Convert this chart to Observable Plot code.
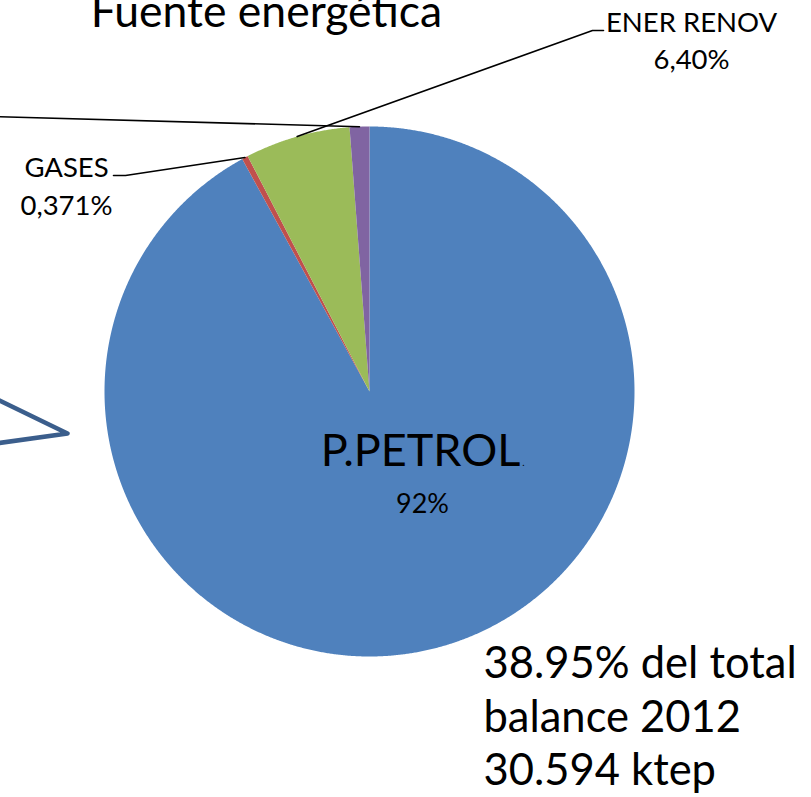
<!DOCTYPE html>
<html><head><meta charset="utf-8">
<script src="https://cdn.jsdelivr.net/npm/d3@7"></script>
<script src="https://cdn.jsdelivr.net/npm/@observablehq/plot@0.6"></script>
<style>body{margin:0;background:#fff}</style>
</head><body><div id="chart"></div>
<script>
// ---- data ----
const categories = ["P.PETROL", "GASES", "ENER RENOV", "OTROS"];
const values = [92.03, 0.371, 6.40, 1.20];
const valueLabels = ["92%", "0,371%", "6,40%", ""];
const colors = ["#4F81BD", "#C0504D", "#9BBB59", "#8064A2"];
const titleText = "Fuente energética";
const noteLines = ["38.95% del total", "balance 2012", "30.594 ktep"];

// ---- layout ----
const W = 811, H = 797, cx = 369, cy = 391, R = 265;
const FONT = "Lato";
// label anchors (pixels): name, value, leader elbow/end
const labelLayout = [
  {name: [420, 465, 45], value: [422, 512, 27], leader: null},
  {name: [66, 176, 27.5], value: [66, 214, 27.5], leader: [[125, 175], [113, 175]]},
  {name: [691, 31, 27.5], value: [691, 68, 27.5], leader: [[592, 30], [603, 30]]},
  {name: null, value: null, leader: [[-10, 116]]}
];

const data = categories.map((c, i) => ({cat: c, value: values[i], label: valueLabels[i], i}));
const arcs = d3.pie().sort(null).value(d => d.value)(data);
const pt = (a, r) => ({x: cx + r * Math.sin(a), y: cy - r * Math.cos(a)});

const slicePts = arcs.flatMap(p => {
  const n = Math.max(4, Math.ceil((p.endAngle - p.startAngle) / (Math.PI / 720)));
  const pts = [{x: cx, y: cy, cat: p.data.cat}];
  for (let k = 0; k <= n; k++) {
    const a = p.startAngle + (p.endAngle - p.startAngle) * k / n;
    pts.push({...pt(a, R), cat: p.data.cat});
  }
  pts.push({x: cx, y: cy, cat: p.data.cat});
  return pts;
});

const leaderPts = arcs.flatMap((p, i) => {
  const L = labelLayout[i].leader;
  if (!L) return [];
  const m = pt((p.startAngle + p.endAngle) / 2, R);
  return [{x: m.x, y: m.y, g: i}, ...L.map(([x, y]) => ({x, y, g: i}))];
});

const nameTexts = data.filter((d, i) => labelLayout[i].name && d.i !== 0).map(d => ({
  text: d.cat, x: labelLayout[d.i].name[0], y: labelLayout[d.i].name[1], s: labelLayout[d.i].name[2]}));
const valueTexts = data.filter((d, i) => labelLayout[i].value).map(d => ({
  text: d.label, x: labelLayout[d.i].value[0], y: labelLayout[d.i].value[1], s: labelLayout[d.i].value[2]}));

const calloutPts = [{x: -5, y: 398}, {x: 67, y: 433}, {x: -5, y: 443}];
const noteY = [677, 731, 784];

const chart = Plot.plot({
  width: W, height: H, margin: 0,
  x: {domain: [0, W], range: [0, W], axis: null},
  y: {domain: [0, H], range: [0, H], axis: null},
  color: {domain: categories, range: colors},
  style: {fontFamily: FONT, background: "white", overflow: "hidden"},
  marks: [
    Plot.line(slicePts, {x: "x", y: "y", z: "cat", fill: "cat", stroke: "none"}),
    Plot.line(leaderPts, {x: "x", y: "y", z: "g", stroke: "black", strokeWidth: 1.6}),
    Plot.line(calloutPts, {x: "x", y: "y", stroke: "#3B5E8C", strokeWidth: 4.5, strokeLinejoin: "round", strokeLinecap: "round"}),
    Plot.text([titleText], {x: 266, y: 26, text: d => d, fontSize: 44.5, textAnchor: "middle", lineAnchor: "bottom", fill: "black", fontFamily: FONT}),
    Plot.text(nameTexts, {x: "x", y: "y", text: "text", fontSize: d => d.s, textAnchor: "middle", lineAnchor: "bottom", fill: "black", fontFamily: FONT}),
    Plot.text([data[0]], {x: labelLayout[0].name[0], y: labelLayout[0].name[1], text: "cat", fontSize: labelLayout[0].name[2], textAnchor: "middle", lineAnchor: "bottom", fill: "black", fontFamily: FONT}),
    Plot.text(["."], {x: 523, y: 465, text: d => d, fontSize: 10, textAnchor: "middle", lineAnchor: "bottom", fill: "black", fontFamily: FONT}),
    Plot.text(valueTexts, {x: "x", y: "y", text: "text", fontSize: d => d.s, textAnchor: "middle", lineAnchor: "bottom", fill: "black", fontFamily: FONT}),
    Plot.text(noteLines, {x: 483, y: (d, i) => noteY[i], text: d => d, fontSize: 43.5, textAnchor: "start", lineAnchor: "bottom", fill: "black", fontFamily: FONT})
  ]
});
document.getElementById("chart").appendChild(chart);
</script>
</body></html>
